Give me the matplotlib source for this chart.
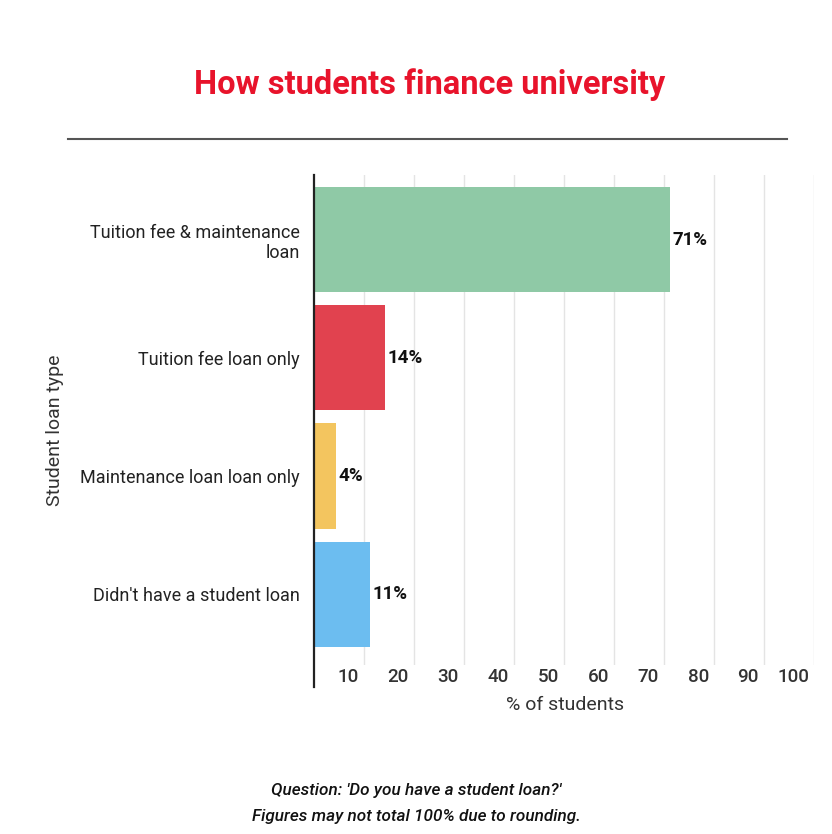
import matplotlib.pyplot as plt
import matplotlib.transforms as mtransforms
import numpy as np

# Data
categories = ["Tuition fee & maintenance\nloan", "Tuition fee loan only",
              "Maintenance loan loan only", "Didn't have a student loan"]
values = [71.2, 14.2, 4.4, 11.2]
labels = ["71%", "14%", "4%", "11%"]
colors = ["#8fc9a6", "#e1424f", "#f3c55f", "#6cbdf0"]
xticks = [10, 20, 30, 40, 50, 60, 70, 80, 90, 100]

plt.rcParams['font.family'] = ['Roboto', 'DejaVu Sans']

fig = plt.figure(figsize=(8.32, 8.34), dpi=100)
ax = fig.add_axes([314 / 832, 1 - 665 / 834, 500 / 832, 490 / 834])

y = np.arange(len(categories))
ax.barh(y, values, height=0.89, color=colors, zorder=2)

for yi, v, lab in zip(y, values, labels):
    ax.text(v + 0.5, yi, lab, va='center', ha='left', fontsize=13.5,
            fontweight='bold', color='#111111')

ax.set_xlim(0, 100)
ax.set_ylim(3.60, -0.547)
ax.set_xticks(xticks)
ax.set_xticklabels([str(t) for t in xticks], ha='right')
ax.set_yticks(y)
ax.set_yticklabels(categories, fontsize=13, color='#222222')
ax.tick_params(axis='x', length=0, pad=2, labelsize=13.5, labelcolor='#333333')
ax.tick_params(axis='y', length=0, pad=10)
# tick labels sit just left of their gridline
shift = mtransforms.ScaledTranslation(-5 / 100, 0, fig.dpi_scale_trans)
for t in ax.get_xticklabels():
    t.set_fontweight('medium')
    t.set_transform(t.get_transform() + shift)
ax.grid(axis='x', color='#e4e4e4', lw=1, zorder=0)

for s in ['top', 'right', 'bottom', 'left']:
    ax.spines[s].set_visible(False)
# axis line runs past the bottom of the plot area
ax.plot([0, 0], [-0.045, 1.0], transform=ax.transAxes, color='#222222',
        lw=1.6, clip_on=False, zorder=3)

ax.set_xlabel("% of students", fontsize=14, color='#333333')
ax.xaxis.set_label_coords((565 - 314) / 500, -0.063)
ax.set_ylabel("Student loan type", fontsize=14, color='#333333')
ax.yaxis.set_label_coords((64 - 314) / 500, 0.48)

fig.text(430 / 832, 1 - 85 / 834, "How students finance university",
         ha='center', va='center', fontsize=23.5, fontweight='bold', color='#e8132b')
fig.add_artist(plt.Line2D([68 / 832, 787 / 832], [1 - 139 / 834, 1 - 139 / 834],
                          color='#555555', lw=1.5))

fig.text(416 / 832, 1 - 791 / 834, "Question: 'Do you have a student loan?'",
         ha='center', va='center', fontsize=12.3, style='italic', fontweight='medium',
         color='#111111')
fig.text(416 / 832, 1 - 816 / 834, "Figures may not total 100% due to rounding.",
         ha='center', va='center', fontsize=12.3, style='italic', fontweight='medium',
         color='#111111')

fig.savefig("out.png", dpi=100)
